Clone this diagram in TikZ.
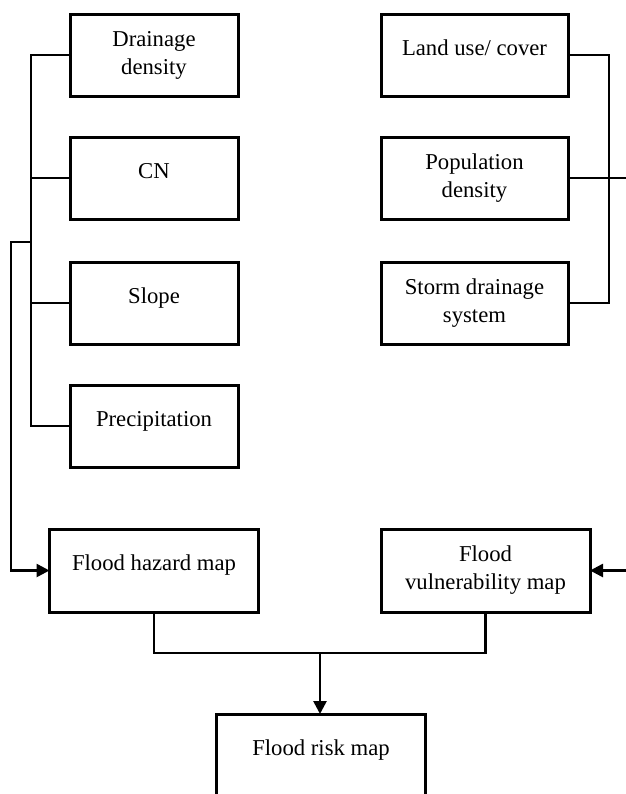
\documentclass[tikz,border=0pt]{standalone}
\usepackage{fontspec}
\setmainfont{Liberation Serif}
\usetikzlibrary{arrows.meta}
\newcommand\twolines[2]{\parbox[t]{100pt}{\centering #1\\#2}}
\begin{document}
\begin{tikzpicture}[x=0.5pt,y=-0.5pt,
  box/.style={draw, line width=1.5pt, inner sep=0pt, outer sep=0pt, minimum height=41pt},
  lbox/.style={box, minimum width=84pt},
  rbox/.style={box, minimum width=93.5pt},
  bbox/.style={box, minimum width=104.5pt, minimum height=41.5pt},
  txt/.style={anchor=base, inner sep=0pt, font=\fontsize{11.35}{14}\selectfont},
  conn/.style={line width=1.3pt},
  arr/.style={conn, -{Triangle[length=6.5pt,width=6.5pt]}}]
\clip (0,0) rectangle (626,794);
\fill[white] (0,0) rectangle (626,794);
% left column
\node[lbox] (dd) at (154,55) {};
\node[lbox] (cn) at (154,178) {};
\node[lbox] (sl) at (154,303) {};
\node[lbox] (pr) at (154,426) {};
\node[txt] (dd-t) at ([yshift=4.5pt]dd.center) {\twolines{Drainage}{density}};
\node[txt] (cn-t) at (cn.center) {CN};
\node[txt] (sl-t) at (sl.center) {Slope};
\node[txt] (pr-t) at (pr.center) {Precipitation};
% right column
\node[rbox] (lu) at (474.5,55) {};
\node[rbox] (pd) at (474.5,178) {};
\node[rbox] (sd) at (474.5,303) {};
\node[txt] (lu-t) at (lu.center) {Land use/ cover};
\node[txt] (pd-t) at ([yshift=4.5pt]pd.center) {\twolines{Population}{density}};
\node[txt] (sd-t) at ([yshift=4.5pt]sd.center) {\twolines{Storm drainage}{system}};
% maps
\node[bbox] (hz) at (154,570.5) {};
\node[bbox] (vm) at (485.5,570.5) {};
\node[bbox] (rk) at (321,755.5) {};
\node[txt] (hz-t) at (hz.center) {Flood hazard map};
\node[txt] (vm-t) at ([yshift=4.5pt]vm.center) {\twolines{Flood}{vulnerability map}};
\node[txt] (rk-t) at (rk.center) {Flood risk map};
% coordinates
\coordinate (lj) at (31,242);
\coordinate (lo) at (11,242);
\coordinate (rp) at (626,178);
\coordinate (re) at (626,570.5);
\coordinate (mj) at (320,653);
% left connectors
\draw[conn] (dd.west) -- ++(-39,0) |- (pr.west);
\draw[conn] (cn.west) -- ++(-39,0);
\draw[conn] (sl.west) -- ++(-39,0);
\draw[arr] (lj) -- (lo) |- (hz.west);
% right connectors
\draw[conn] (lu.east) -- ++(41,0) |- (sd.east);
\draw[conn] (pd.east) -- (rp);
\draw[arr] (re) -- (vm.east);
% bottom connectors
\draw[conn] (hz.south) |- (mj) -| (vm.south);
\draw[arr] (mj) -- (mj |- rk.north);
\end{tikzpicture}
\end{document}
